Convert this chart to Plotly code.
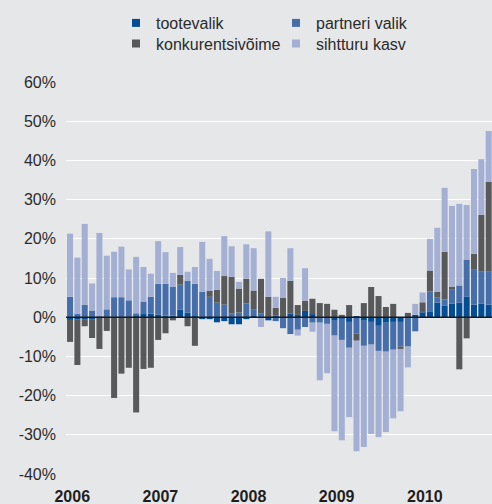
import plotly.graph_objects as go

# Monthly data, Jan 2006 .. Oct 2010 (percent contributions)
months = list(range(58))
year_labels = ["2006", "2007", "2008", "2009", "2010"]
year_ticks = [0.3, 12.3, 24.3, 36.3, 48.3]
y_ticks = [-40, -30, -20, -10, 0, 10, 20, 30, 40, 50, 60]
y_labels = ["-40%", "-30%", "-20%", "-10%", "0%", "10%", "20%", "30%", "40%", "50%", "60%"]

tootevalik = [-0.7, -0.5, -0.5, -0.5, -0.2, -0.2, -0.2, -0.2, -0.2, 0.3,
              0.8, 0.9, 0.7, 0.4, 0.4, 1.9, 1.2, 0.3, -0.5, -0.5,
              -1.3, -1.0, -1.8, -1.8, -0.5, 0.3, 0.0, -0.8, 0.4, 0.0,
              0.9, 0.6, 1.6, 0.8, -0.2, -0.2, -0.9, -0.3, -1.2, 0.3,
              -0.9, -1.2, -2.2, -1.4, -1.2, -1.2, -0.2, 0.6, 1.3, 1.5,
              3.7, 3.0, 3.5, 3.7, 5.3, 3.2, 3.5, 3.2]
partneri_valik = [5.2, 0.9, 3.2, 1.7, 0.2, 2.0, 5.1, 5.1, 4.3, 0.7,
                  3.2, 4.3, 7.8, 8.1, 7.4, 6.4, 8.1, 8.2, 6.5, 5.2,
                  3.7, 3.2, 0.9, 1.2, 3.5, 1.6, 0.9, 0.0, -1.0, -2.8,
                  -4.3, -3.2, -2.5, -1.4, -1.2, -1.5, -3.8, -5.5, -6.6, -4.2,
                  -6.4, -5.8, -6.4, -7.4, -7.1, -6.3, -7.3, -3.6, 0.2, 5.1,
                  1.3, 1.5, 3.5, 4.4, 9.4, 8.9, 8.1, 8.4]
konkurentsivoime = [-5.6, -11.7, -1.8, -4.8, -7.9, -3.3, -20.4, -14.2, -12.7, -24.3,
                    -13.2, -12.9, -5.8, -4.1, -0.8, 2.5, -2.3, -7.3, 0.0, 1.5,
                    3.3, 7.3, 9.4, 6.1, 6.3, 4.9, 8.9, 5.2, 2.0, 5.0,
                    8.4, 2.5, 2.6, 3.9, 3.6, 3.4, 1.9, 0.6, 3.1, -1.8,
                    3.6, 7.7, 5.4, 2.6, 3.4, -0.6, 1.1, 0.0, 2.3, 5.3,
                    1.5, 12.2, 0.8, -13.3, -5.4, 4.1, 14.5, 22.9]
sihtturu_kasv = [16.1, 14.3, 20.6, 6.9, 21.3, 13.7, 11.6, 12.9, 7.9, 14.4,
                 8.8, 5.9, 10.9, 8.1, 3.5, 7.1, 2.3, 4.3, 12.7, 8.2,
                 4.8, 10.2, 7.8, 1.7, 8.8, 10.8, -2.5, 16.7, 2.8, 5.0,
                 8.3, -1.5, 8.3, -2.3, -14.7, -12.6, -24.4, -25.6, -17.7, -28.2,
                 -25.8, -22.8, -22.0, -20.5, -17.5, -15.9, -5.3, 2.8, 2.5, 8.1,
                 16.3, 16.3, 20.6, 20.8, 13.9, 21.6, 14.2, 13.0]

series = [
    ("tootevalik", tootevalik, "#034d94", "legend"),
    ("partneri valik", partneri_valik, "#466eaa", "legend"),
    ("konkurentsivõime", konkurentsivoime, "#58595b", "legend2"),
    ("sihtturu kasv", sihtturu_kasv, "#a3b0d3", "legend2"),
]

fig = go.Figure()
for name, vals, color, leg in series:
    fig.add_trace(go.Bar(x=months, y=vals, name=name, marker_color=color,
                         marker_line_width=0, showlegend=False, hoverinfo="skip"))
for name, vals, color, leg in series:
    fig.add_trace(go.Scatter(x=[None], y=[None], mode="markers", name=name,
                             marker=dict(symbol="square", size=8, color=color),
                             legend=leg, showlegend=True, hoverinfo="skip"))

font_family = "Liberation Sans, Arial, sans-serif"
bg = "#e6e7e9"
W, H = 492, 504

legend_common = dict(orientation="h", xref="container", yref="container",
                     xanchor="left", yanchor="middle", entrywidth=115,
                     bgcolor="rgba(0,0,0,0)", font=dict(size=16, color="#2b2b2b"),
                     itemclick=False, itemdoubleclick=False)

fig.update_layout(
    width=W, height=H,
    margin=dict(l=66, r=0, t=82, b=30, autoexpand=False),
    paper_bgcolor=bg, plot_bgcolor=bg,
    barmode="relative", bargap=0.18,
    font=dict(family=font_family, size=16, color="#2b2b2b"),
    legend=dict(legend_common, x=116 / W, y=1 - 23 / H),
    legend2=dict(legend_common, x=116 / W, y=1 - 43.5 / H),
    xaxis=dict(range=[-0.55, 57.45], tickvals=year_ticks, ticktext=year_labels,
               tickfont=dict(size=16, color="#1e1e1e", family=font_family, weight="bold"),
               showgrid=False, zeroline=False, showline=False, ticks="",
               ticklabelstandoff=11),
    yaxis=dict(range=[-40, 60], tickvals=y_ticks, ticktext=y_labels,
               showgrid=True, gridcolor="#ffffff", gridwidth=1.4,
               zeroline=False, showline=False, ticks="", ticklabelstandoff=9,
               tickfont=dict(size=16, color="#2b2b2b")),
    shapes=[dict(type="line", xref="paper", x0=0, x1=1, yref="y", y0=0, y1=0,
                 line=dict(color="#1a1a1a", width=1.6), layer="above")],
    hovermode=False,
)

fig.write_html(
    "out.html",
    config={"displayModeBar": False},
    post_script="document.body.style.margin='0';document.body.style.overflow='hidden';",
)
